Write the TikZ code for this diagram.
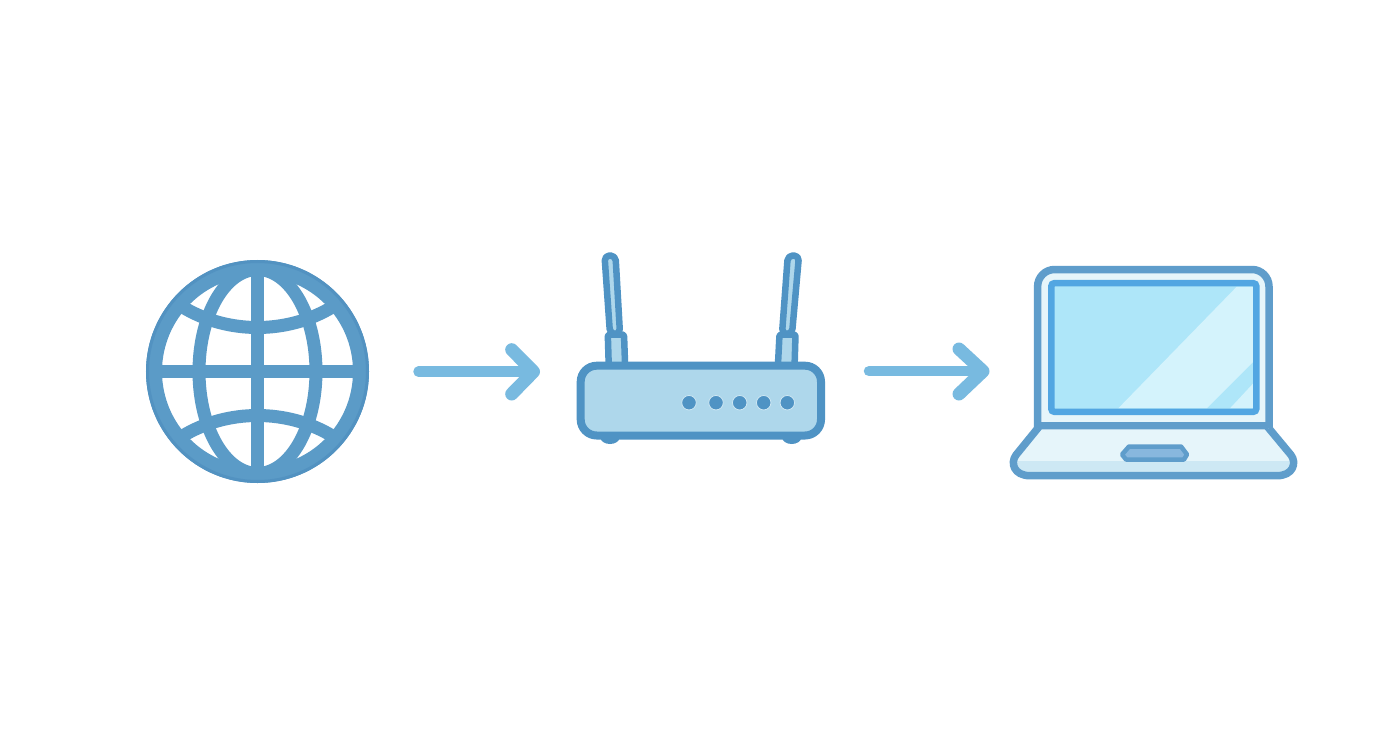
\documentclass[tikz,border=0pt]{standalone}
\definecolor{globeblue}{HTML}{5B9BC7}
\definecolor{rimblue}{HTML}{5292C1}
\definecolor{arrowblue}{HTML}{78BAE0}
\definecolor{routerline}{HTML}{4F93C4}
\definecolor{routerfill}{HTML}{AED7EB}
\definecolor{lapline}{HTML}{5F9DCB}
\definecolor{lapbody}{HTML}{E6F5FA}
\definecolor{lapband}{HTML}{CDE8F4}
\definecolor{screenline}{HTML}{52A6E2}
\definecolor{screenfill}{HTML}{AEE6F9}
\definecolor{glare}{HTML}{D4F3FC}
\definecolor{padfill}{HTML}{88B7DE}
\tikzset{
  globeline/.style={draw=globeblue,line width=13pt},
  flowshaft/.style={draw=arrowblue,line width=10.5pt,line cap=round},
  flowhead/.style={draw=arrowblue,line width=13pt,line cap=round,line join=round},
  routerpart/.style={draw=routerline,fill=routerfill,line width=6.5pt,line join=round},
  led/.style={circle,fill=routerline,draw=routerfill!60!white,line width=0.8pt,minimum size=14.5pt,inner sep=0pt},
  foot/.style={fill=routerline},
  lapstroke/.style={draw=lapline,line width=7.5pt,line join=round}
}
\begin{document}
\begin{tikzpicture}[x=1pt,y=-1pt]
\useasboundingbox[fill=white] (0,0) rectangle (1392,752);
% globe
\coordinate (gc) at (257.5,371.5);
\begin{scope}
\clip (gc) circle[radius=108];
\draw[globeline] (gc) ellipse[x radius=58.5,y radius=102];
\draw[globeline] (146,371.7) -- (369,371.7);
\draw[globeline] (257.8,260) -- (257.8,483);
\draw[globeline] (181,306) .. controls (205,321) and (232,327.5) .. (257.5,327.5) .. controls (283,327.5) and (310,321) .. (334,306);
\draw[globeline] (181,437) .. controls (205,422) and (232,415.5) .. (257.5,415.5) .. controls (283,415.5) and (310,422) .. (334,437);
\end{scope}
\draw[draw=globeblue,line width=16pt] (gc) circle[radius=103.5];
\draw[draw=rimblue,line width=3pt] (gc) circle[radius=110];
% arrows
\coordinate (a1s) at (418.5,371.7);
\coordinate (a1e) at (533.5,371.7);
\coordinate (a1u) at (511.7,349.7);
\coordinate (a1d) at (511.7,394);
\draw[flowshaft] (a1s) -- (a1e);
\draw[flowhead] (a1u) -- (a1e) -- (a1d);
\coordinate (a2s) at (869,371.2);
\coordinate (a2e) at (983,371.2);
\coordinate (a2u) at (959,349);
\coordinate (a2d) at (959,394);
\draw[flowshaft] (a2s) -- (a2e);
\draw[flowhead] (a2u) -- (a2e) -- (a2d);
% router
\draw[routerpart,rounded corners=5pt] (604.5,255.5) -- (615.5,255.5) -- (620,334) -- (610,334) -- cycle;
\draw[routerpart,rounded corners=5pt] (787.8,255.5) -- (799,255.5) -- (792,334) -- (782,334) -- cycle;
\draw[routerpart,rounded corners=2pt] (607.8,334.5) -- (624,334.5) -- (625.2,368) -- (608.8,368) -- cycle;
\draw[routerpart,rounded corners=2pt] (779.5,334.5) -- (795.5,334.5) -- (794.5,368) -- (777.8,368) -- cycle;
\fill[foot] (610,437.5) ellipse[x radius=9.5,y radius=6.5];
\fill[foot] (791.7,437.5) ellipse[x radius=9.5,y radius=6.5];
\draw[draw=routerline,fill=routerfill,line width=8pt,rounded corners=16pt] (580.7,365.7) rectangle (821,435.5);
\node[led] (l1) at (689,402.7) {};
\node[led] (l2) at (716,402.7) {};
\node[led] (l3) at (739.7,402.7) {};
\node[led] (l4) at (763.7,402.7) {};
\node[led] (l5) at (787.3,402.7) {};
% laptop
\fill[lapbody] (1040,425.5) -- (1016,455) .. controls (1010,463) and (1014,475.7) .. (1030,475.7) -- (1277,475.7) .. controls (1293,475.7) and (1297,463) .. (1291,455) -- (1266.5,425.5) -- cycle;
\begin{scope}
\clip (1040,425.5) -- (1016,455) .. controls (1010,463) and (1014,475.7) .. (1030,475.7) -- (1277,475.7) .. controls (1293,475.7) and (1297,463) .. (1291,455) -- (1266.5,425.5) -- cycle;
\fill[lapband] (1005,460.5) rectangle (1300,480);
\end{scope}
\draw[lapstroke] (1040,425.5) -- (1016,455) .. controls (1010,463) and (1014,475.7) .. (1030,475.7) -- (1277,475.7) .. controls (1293,475.7) and (1297,463) .. (1291,455) -- (1266.5,425.5) -- cycle;
\draw[draw=lapline,fill=lapbody,line width=7.5pt,rounded corners=17pt] (1037.6,428) -- (1037.6,269.5) -- (1269,269.5) -- (1269,428);
\draw[lapstroke] (1038,425.5) -- (1268,425.5);
\draw[draw=lapline,fill=padfill,line width=4.5pt,line join=round] (1129,446.5) -- (1181,446.5) -- (1187,454.5) -- (1184,459.5) -- (1126,459.5) -- (1122,454.5) -- cycle;
\fill[screenfill] (1051,283) rectangle (1256.5,412);
\fill[glare] (1236.7,286.7) -- (1256.5,286.7) -- (1256.5,358.5) -- (1206.7,408.3) -- (1118.3,408.3) -- cycle;
\fill[glare] (1253.3,383.3) -- (1253.3,408.3) -- (1230,408.3) -- cycle;
\draw[draw=screenline,line width=6.5pt,rounded corners=3pt] (1051.3,283.2) rectangle (1256.3,411.8);
\end{tikzpicture}
\end{document}
